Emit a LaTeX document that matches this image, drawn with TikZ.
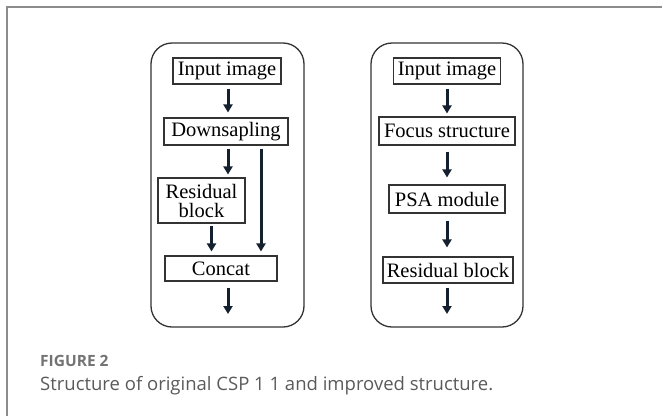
\documentclass[tikz,border=0pt]{standalone}
\usepackage{fontspec}
\setmainfont{Liberation Serif}
\newfontfamily\capfont{Open Sans}
\usepackage{tikz}
\usetikzlibrary{positioning,arrows.meta,calc}
\definecolor{framegray}{HTML}{8C8C8C}
\definecolor{boxgray}{HTML}{333333}
\definecolor{arrownavy}{HTML}{15202E}
\definecolor{capgray}{HTML}{5A5A5A}
\tikzset{
    every node/.style={font=\fontsize{20.5}{23}\selectfont},
    panel/.style={rounded corners=21pt,draw=boxgray,line width=1.3pt},
    stage/.style={rectangle,draw=boxgray,line width=1.1pt,inner sep=1pt,minimum height=26pt,align=center},
    flow/.style={draw=arrownavy,line width=3pt,-{Triangle[width=9pt,length=8pt]}},
    frame/.style={draw=framegray,line width=2pt},
    caphead/.style={font=\capfont\fontsize{15.5}{17}\selectfont\bfseries,text=capgray!85,anchor=base west,inner sep=0pt},
    captext/.style={font=\capfont\fontsize{18.5}{21}\selectfont,text=capgray,anchor=base west,inner sep=0pt}
}

\begin{document}
\begin{tikzpicture}[x=1pt,y=-1pt]
\useasboundingbox (0,0) rectangle (662,416);
\draw[frame] (662,7) -- (7,7) -- (7,416);

% original CSP block
\draw[panel] (151,43) rectangle (304,327);
\node[stage,minimum width=108pt] (inimg1) at (227,71) {Input image};
\node[stage,minimum width=124pt,minimum height=27pt] (down1) at (226,131.5) {Downsapling};
\node[stage,minimum width=87pt,minimum height=45pt] (res1) at (201.5,200.5) {Residual\\[-4pt]block};
\node[stage,minimum width=112pt,minimum height=25pt] (concat1) at (221,268.5) {Concat};
\coordinate (out1) at (228,314);

\draw[flow,shorten <=4pt,shorten >=5pt] ([xshift=1pt]inimg1.south) -- ([xshift=1pt]inimg1.south |- down1.north);
\draw[flow,shorten <=3pt,shorten >=3pt] ([xshift=2pt]down1.south) -- ([xshift=2pt]down1.south |- res1.north);
\draw[flow,shorten <=3pt,shorten >=4pt] ([xshift=35pt]down1.south) -- ([xshift=35pt]down1.south |- concat1.north);
\draw[flow,shorten <=2pt,shorten >=4pt] ([xshift=10pt]res1.south) -- ([xshift=10pt]res1.south |- concat1.north);
\draw[flow,shorten <=6pt] (concat1.south -| out1) -- (out1);

% improved block
\draw[panel] (371,43) rectangle (523,327);
\node[stage,minimum width=107pt] (inimg2) at (447,71) {Input image};
\node[stage,minimum width=136pt,minimum height=28pt] (focus2) at (447,131) {Focus structure};
\node[stage,minimum width=116pt,minimum height=28pt] (psa2) at (447,199) {PSA module};
\node[stage,minimum width=130pt] (res2) at (448,270) {Residual block};
\coordinate (out2) at (447,314);

\draw[flow,shorten <=4pt,shorten >=3pt] (inimg2.south) -- (inimg2.south |- focus2.north);
\draw[flow,shorten <=6pt,shorten >=7pt] (focus2.south) -- (focus2.south |- psa2.north);
\draw[flow,shorten <=7pt,shorten >=9pt] (psa2.south) -- (psa2.south |- res2.north);
\draw[flow,shorten <=4pt] (res2.south -| out2) -- (out2);

\node[caphead] (fig) at (40,366) {FIGURE 2};
\node[captext] (cap) at (40,390) {Structure of original CSP 1 1 and improved structure.};
\end{tikzpicture}
\end{document}
